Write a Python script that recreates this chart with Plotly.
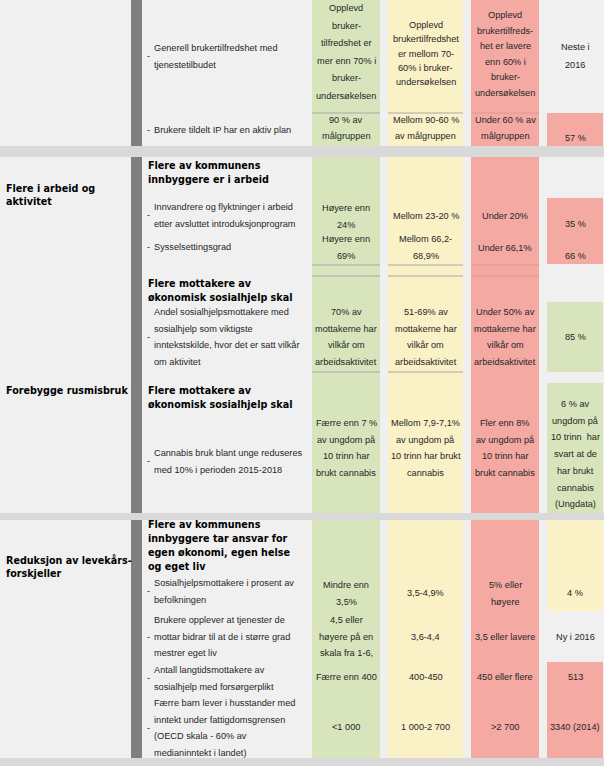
import plotly.graph_objects as go

# ---------------- DATA (texts) ----------------
area_names = [["Flere i arbeid og", "aktivitet"],
              ["Forebygge rusmisbruk"],
              ["Reduksjon av levekårs-", "forskjeller"]]

goal_headings = [["Flere av kommunens", "innbyggere er i arbeid"],
                 ["Flere mottakere av", "økonomisk sosialhjelp skal"],
                 ["Flere mottakere av", "økonomisk sosialhjelp skal"],
                 ["Flere av kommunens", "innbyggere tar ansvar for",
                  "egen økonomi, egen helse", "og eget liv"]]

indicators = [["Generell brukertilfredshet med", "tjenestetilbudet"],
              ["Brukere tildelt IP har en aktiv plan"],
              ["Innvandrere og flyktninger i arbeid", "etter avsluttet introduksjonprogram"],
              ["Sysselsettingsgrad"],
              ["Andel sosialhjelpsmottakere med", "sosialhjelp som viktigste",
               "inntekstskilde, hvor det er satt vilkår", "om aktivitet"],
              ["Cannabis bruk blant unge reduseres", "med 10% i perioden 2015-2018"],
              ["Sosialhjelpsmottakere i prosent av", "befolkningen"],
              ["Brukere opplever at tjenester de", "mottar bidrar til at de i større grad",
               "mestrer eget liv"],
              ["Antall langtidsmottakere av", "sosialhjelp med forsørgerplikt"],
              ["Færre barn lever i husstander med", "inntekt under fattigdomsgrensen",
               "(OECD skala - 60% av", "medianinntekt i landet)"]]

green_targets = [["Opplevd", "bruker-", "tilfredshet er", "mer enn 70% i", "bruker-", "undersøkelsen"],
                 ["90 % av", "målgruppen"],
                 ["Høyere enn", "24%"],
                 ["Høyere enn", "69%"],
                 ["70% av", "mottakerne har", "vilkår om", "arbeidsaktivitet"],
                 ["Færre enn 7 %", "av ungdom på", "10 trinn har", "brukt cannabis"],
                 ["Mindre enn", "3,5%"],
                 ["4,5 eller", "høyere på en", "skala fra 1-6,"],
                 ["Færre enn 400"],
                 ["<1 000"]]

yellow_targets = [["Opplevd", "brukertilfredshet", "er mellom 70-", "60% i bruker-", "undersøkelsen"],
                  ["Mellom 90-60 %", "av målgruppen"],
                  ["Mellom 23-20 %"],
                  ["Mellom 66,2-", "68,9%"],
                  ["51-69% av", "mottakerne har", "vilkår om", "arbeidsaktivitet"],
                  ["Mellom 7,9-7,1%", "av ungdom på", "10 trinn har brukt", "cannabis"],
                  ["3,5-4,9%"],
                  ["3,6-4,4"],
                  ["400-450"],
                  ["1 000-2 700"]]

red_targets = [["Opplevd", "brukertilfreds-", "het er lavere", "enn 60% i", "bruker-", "undersøkelsen"],
               ["Under 60 % av", "målgruppen"],
               ["Under 20%"],
               ["Under 66,1%"],
               ["Under 50% av", "mottakerne har", "vilkår om", "arbeidsaktivitet"],
               ["Fler enn 8%", "av ungdom på", "10 trinn har", "brukt cannabis"],
               ["5% eller", "høyere"],
               ["3,5 eller lavere"],
               ["450 eller flere"],
               [">2 700"]]

status_values = [["Neste i", "2016"], ["57 %"], ["35 %"], ["66 %"], ["85 %"],
                 ["6 % av", "ungdom på", "10 trinn  har", "svart at de", "har brukt", "cannabis", "(Ungdata)"],
                 ["4 %"], ["Ny i 2016"], ["513"], ["3340 (2014)"]]
status_levels = [None, "red", "red", "red", "green", "green", "yellow", None, "red", "red"]

# ---------------- LAYOUT (positions / styles) ----------------
W, H = 604, 766
BG = "#f0f0f0"
BAND = "#d9d9d9"
DARK = "#808080"
FILL = {"green": "#d8e4bc", "yellow": "#fbf1c6", "red": "#f4a9a3"}
TXT = "#262626"

sections = [(0, 146), (157, 513), (520, 758)]
bands = [(146, 157), (513, 520), (758, 766)]
col_x = {"green": (312, 380), "yellow": (388, 463), "red": (471, 539), "status": (547, 603)}

area_y = [188, 390, 560]
heading_y = [165, 283, 390, 524]
item_y = [48, 130, 207, 247, 312, 453, 583, 620, 670, 703]
item_sp = 16.7
green_pos = [(8, 17.5), (120, 16), (208, 17), (239, 17), (312, 16.7), (423, 16.7),
             (585, 17), (620, 16.5), (677, 0), (727, 0)]
yellow_pos = [(25, 14.3), (120, 16), (216, 0), (239, 17), (312, 16.7), (423, 16.7),
              (593, 0), (637, 0), (677, 0), (727, 0)]
red_pos = [(15, 15.5), (120, 16), (216, 0), (248, 0), (312, 16.7), (423, 16.7),
           (585, 17), (637, 0), (677, 0), (727, 0)]
status_pos = [(47, 18), (138, 0), (224, 0), (256, 0), (337, 0), (404, 16.7),
              (593, 0), (637, 0), (677, 0), (727, 0)]
status_cells = [(0, 0), (113, 146), (198, 264), (198, 264), (302, 372), (383, 513),
                (520, 611), (0, 0), (662, 758), (662, 758)]
rule_y = [(113, ["green", "yellow", "red"]), (265, ["green", "yellow", "red"]),
          (276, ["green", "yellow", "red"]), (372, ["green", "yellow"])]

fig = go.Figure()
shapes = []
annotations = []


def rect(x0, x1, y0, y1, color):
    shapes.append(dict(type="rect", xref="x", yref="y", x0=x0, x1=x1, y0=y0, y1=y1,
                       fillcolor=color, line=dict(width=0), layer="below"))


# column backgrounds
for (y0, y1) in sections:
    for key in ["green", "yellow", "red"]:
        rect(*col_x[key], y0, y1, FILL[key])
# status cells
for lvl, (y0, y1) in zip(status_levels, status_cells):
    if lvl:
        rect(*col_x["status"], y0, y1, FILL[lvl])
# dark vertical bar
rect(131, 142, 0, H, DARK)
# bands
for (y0, y1) in bands:
    rect(0, W, y0, y1, BAND)
# thin rules
for y, cols in rule_y:
    for key in cols:
        x0, x1 = col_x[key]
        shapes.append(dict(type="line", xref="x", yref="y", x0=x0, x1=x1, y0=y, y1=y,
                           line=dict(color="#a8a8a8" if key != "red" else "#e39690", width=1)))


def put_lines(x, y0, sp, lines, font, xanchor="center"):
    for i, ln in enumerate(lines):
        annotations.append(dict(x=x, y=y0 + i * sp, xref="x", yref="y", text=ln,
                                showarrow=False, xanchor=xanchor, yanchor="middle",
                                font=font))


bold = dict(family="DejaVu Sans", size=9.6, color="#000000", weight="bold")
body = dict(family="Liberation Sans", size=9.2, color=TXT)

for names, y in zip(area_names, area_y):
    put_lines(4, y, 13, names, bold, "left")
for heads, y in zip(goal_headings, heading_y):
    put_lines(146, y, 14, heads, bold, "left")
for lines, y in zip(indicators, item_y):
    put_lines(152, y, item_sp, lines, body, "left")
    dash_y = y + item_sp * (len(lines) - 1) / 2
    put_lines(145, dash_y, 0, ["-"], body, "left")

for key, texts, pos in [("green", green_targets, green_pos),
                        ("yellow", yellow_targets, yellow_pos),
                        ("red", red_targets, red_pos),
                        ("status", status_values, status_pos)]:
    cx = sum(col_x[key]) / 2
    for lines, (y0, sp) in zip(texts, pos):
        put_lines(cx, y0, sp, lines, body)

fig.update_layout(
    width=W, height=H, margin=dict(l=0, r=0, t=0, b=0),
    paper_bgcolor=BG, plot_bgcolor=BG,
    xaxis=dict(range=[0, W], visible=False, fixedrange=True),
    yaxis=dict(range=[H, 0], visible=False, fixedrange=True),
    shapes=shapes, annotations=annotations, showlegend=False,
)
fig.write_html("out.html", config={"displayModeBar": False},
               post_script="document.body.style.margin='0';document.body.style.overflow='hidden';")
